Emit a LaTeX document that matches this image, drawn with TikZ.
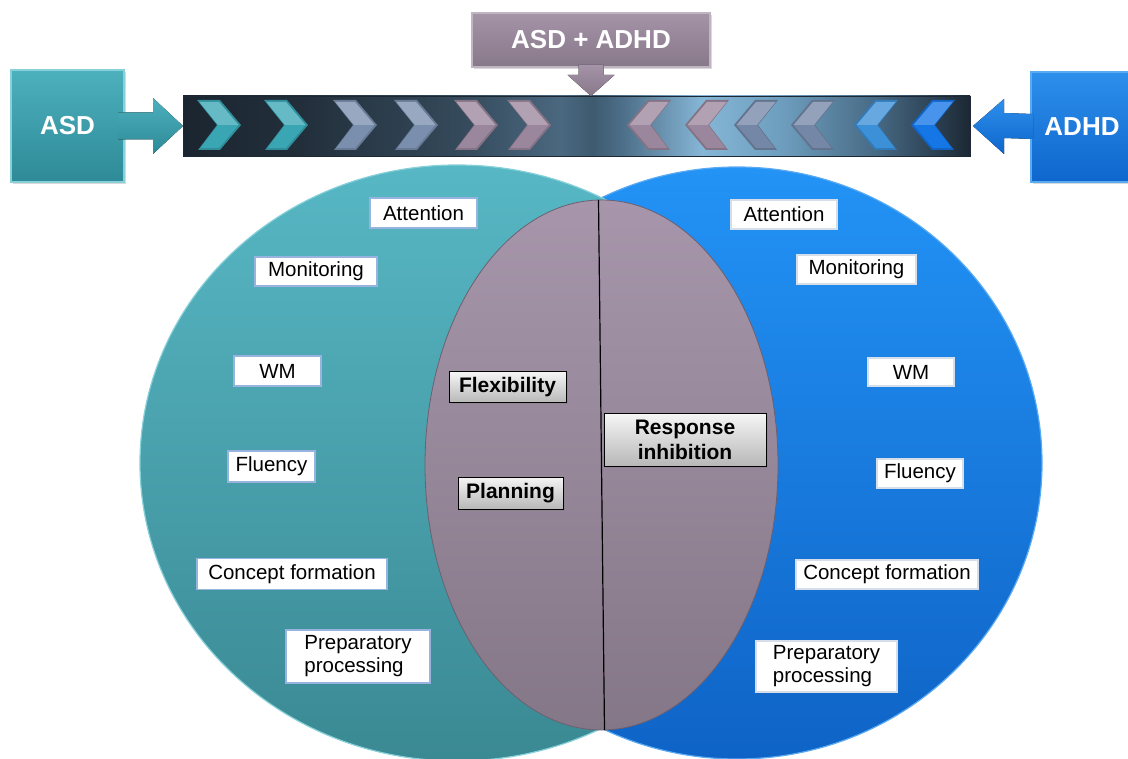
\documentclass[tikz,border=0pt]{standalone}
\usepackage{fontspec}
\setmainfont{Liberation Sans}
\usetikzlibrary{calc,shapes.geometric,shadows}
\definecolor{barA}{HTML}{1B2530}
\definecolor{barB}{HTML}{222F3B}
\definecolor{barC}{HTML}{34495A}
\definecolor{barD}{HTML}{4A6880}
\definecolor{barE}{HTML}{3D5A6F}
\definecolor{barF}{HTML}{4E708A}
\definecolor{barG}{HTML}{86B6D6}
\definecolor{barH}{HTML}{6E9EBE}
\definecolor{barI}{HTML}{476A85}
\definecolor{barJ}{HTML}{1C2834}
\pgfdeclarehorizontalshading{barshade}{100bp}{color(0bp)=(barA); color(25bp)=(barA); color(32.5bp)=(barB); color(42.5bp)=(barC); color(49bp)=(barD); color(51bp)=(barE); color(53bp)=(barF); color(58bp)=(barG); color(63bp)=(barH); color(69bp)=(barI); color(75bp)=(barJ); color(100bp)=(barJ)}
\definecolor{asdTop}{HTML}{57B7C4}
\definecolor{asdBot}{HTML}{3A8993}
\definecolor{asdEdge}{HTML}{86D0D9}
\definecolor{adhdTop}{HTML}{2393F6}
\definecolor{adhdBot}{HTML}{0F63C6}
\definecolor{adhdEdge}{HTML}{5AAAF2}
\definecolor{midTop}{HTML}{A796AB}
\definecolor{midBot}{HTML}{847787}
\definecolor{midEdge}{HTML}{6C6070}
\definecolor{boxTeal}{HTML}{4DB0BD}
\definecolor{boxTealB}{HTML}{2E8A97}
\definecolor{boxBlue}{HTML}{2D8FEC}
\definecolor{boxBlueB}{HTML}{0E66CC}
\definecolor{boxMauve}{HTML}{A593A8}
\definecolor{boxMauveB}{HTML}{877889}
\definecolor{chT}{HTML}{3AA6B4}
\definecolor{chB}{HTML}{7A8FAE}
\definecolor{chM}{HTML}{9B879D}
\definecolor{chBr}{HTML}{7487A6}
\definecolor{chL}{HTML}{3C90D8}
\definecolor{chBl}{HTML}{1576E6}
\definecolor{lblEdge}{HTML}{98B4DE}
\definecolor{lblEdgeR}{HTML}{D6DEEA}
\begin{document}
\begin{tikzpicture}[x=1pt,y=-1pt,
  setshape/.style={ellipse, inner sep=0pt, outer sep=0pt, line width=1.2pt},
  lbl/.style={draw=lblEdge, line width=1.3pt, fill=white, inner sep=0pt, outer sep=0pt,
    font=\fontsize{20.5}{23}\selectfont, text=black},
  lblr/.style={lbl, draw=lblEdgeR},
  bld/.style={draw=black, line width=1pt, top color=black!4, bottom color=black!28,
    inner sep=0pt, outer sep=0pt, font=\bfseries\fontsize{21}{25}\selectfont, text=black,
    drop shadow={shadow xshift=1.5pt, shadow yshift=-1.5pt, opacity=0.35}},
  catbox/.style={inner sep=0pt, outer sep=0pt, text=white, line width=1.2pt,
    font=\bfseries\fontsize{26}{30}\selectfont,
    drop shadow={shadow xshift=2pt, shadow yshift=-2pt, opacity=0.3}}
]
\useasboundingbox (0,0) rectangle (1128,759);

% ---- sets ----
\node[setshape, minimum width=610, minimum height=592, top color=adhdTop, bottom color=adhdBot, draw=adhdEdge] (adhdset) at (737,463) {};
\node[setshape, minimum width=634, minimum height=596, top color=asdTop, bottom color=asdBot, draw=asdEdge] (asdset) at (457,463) {};
\node[setshape, minimum width=353, minimum height=530, top color=midTop, bottom color=midBot, draw=midEdge, line width=0.8pt] (mid) at (601.5,465) {};
\draw[line width=1.2pt, black] ([xshift=-3pt]mid.north) -- ([xshift=3pt]mid.south);

% ---- bar ----
\node[minimum width=787, minimum height=60, inner sep=0pt, outer sep=0pt, shading=barshade, draw=barJ, line width=0.6pt] (bar) at (576.5,126) {};

% chevrons pointing right
\foreach \xx/\cc in {197/chT,264/chT,333/chB,394/chB,454/chM,507/chM}{
  \fill[\cc!85!black] (\xx,100) -- ++(23,0) -- ++(21,25) -- ++(-21,25) -- ++(-22,0) -- ++(19,-25) -- cycle;
  \fill[\cc] (\xx+2.5,102) -- (\xx+22,102) -- (\xx+41.5,125) -- (\xx+22,148) -- (\xx+3.5,148) -- (\xx+21,125) -- cycle;
  \fill[\cc!78!white] (\xx+2.5,102) -- (\xx+22,102) -- (\xx+41.5,125) -- (\xx+21,125) -- cycle;
}
% chevrons pointing left
\foreach \xx/\cc in {671/chM,729/chM,778/chBr,835/chBr,898/chL,955/chBl}{
  \fill[\cc!85!black] (\xx,100) -- ++(-23,0) -- ++(-21,25) -- ++(21,25) -- ++(22,0) -- ++(-19,-25) -- cycle;
  \fill[\cc] (\xx-2.5,102) -- (\xx-22,102) -- (\xx-41.5,125) -- (\xx-22,148) -- (\xx-3.5,148) -- (\xx-21,125) -- cycle;
  \fill[\cc!78!white] (\xx-2.5,102) -- (\xx-22,102) -- (\xx-41.5,125) -- (\xx-21,125) -- cycle;
}

% ---- category boxes ----
\node[catbox, top color=boxTeal, bottom color=boxTealB, draw=asdEdge, minimum width=113, minimum height=112] (asd) at (67.5,126) {ASD};
\node[catbox, top color=boxBlue, bottom color=boxBlueB, draw=adhdEdge, minimum width=102, minimum height=110, anchor=west] (adhd) at (1031,127) {ADHD};
\node[catbox, top color=boxMauve, bottom color=boxMauveB, draw=boxMauve!70!white, minimum width=238, minimum height=54] (both) at (591,40) {ASD + ADHD};

% ---- block arrows ----
\fill[top color=boxTeal, bottom color=boxTealB]
  ($(asd.east)+(-6,-13.5)$) -- ($(bar.west)+(-30,-13.5)$) -- ($(bar.west)+(-30,-28)$) -- (bar.west)
  -- ($(bar.west)+(-30,28)$) -- ($(bar.west)+(-30,13.5)$) -- ($(asd.east)+(-6,13.5)$) -- cycle;
\fill[top color=boxBlue, bottom color=boxBlueB]
  ($(adhd.west)+(2,-13)$) -- ($(bar.east)+(34,-13)$) -- ($(bar.east)+(34,-27)$) -- ($(bar.east)+(3,0)$)
  -- ($(bar.east)+(34,28)$) -- ($(bar.east)+(34,12)$) -- ($(adhd.west)+(2,12)$) -- cycle;
\coordinate (tipBoth) at (both.south |- bar.north);
\fill[top color=boxMauve, bottom color=boxMauveB]
  ($(both.south)+(-12.5,-2)$) -- ($(tipBoth)+(-12.5,-21)$) -- ($(tipBoth)+(-23.5,-21)$) -- (tipBoth)
  -- ($(tipBoth)+(23.5,-21)$) -- ($(tipBoth)+(12.5,-21)$) -- ($(both.south)+(12.5,-2)$) -- cycle;

% ---- left labels ----
\node[lbl, minimum width=107, minimum height=30] (lAtt) at (423.5,213) {Attention};
\node[lbl, minimum width=122, minimum height=29] (lMon) at (316,271.5) {Monitoring};
\node[lbl, minimum width=87, minimum height=30] (lWM) at (277.5,371) {WM};
\node[lbl, minimum width=87, minimum height=31] (lFlu) at (271.5,466.5) {Fluency};
\node[lbl, minimum width=190, minimum height=31] (lCon) at (292,574) {Concept formation};
\node[lbl, minimum width=144, minimum height=53, align=left] (lPre) at (358,656.5) {Preparatory\\processing};

% ---- right labels ----
\node[lblr, minimum width=106, minimum height=29] (rAtt) at (784,214.5) {Attention};
\node[lblr, minimum width=119, minimum height=29] (rMon) at (856.5,269.5) {Monitoring};
\node[lblr, minimum width=86, minimum height=28] (rWM) at (911,372) {WM};
\node[lblr, minimum width=86, minimum height=29] (rFlu) at (920,473.5) {Fluency};
\node[lblr, minimum width=182, minimum height=29] (rCon) at (887,574.5) {Concept formation};
\node[lblr, minimum width=141, minimum height=51, align=left] (rPre) at (826.5,666.5) {Preparatory\\processing};

% ---- shared labels ----
\node[bld, minimum width=117, minimum height=31] (flex) at (507.5,387.5) {Flexibility};
\node[bld, minimum width=105, minimum height=32] (plan) at (510.5,493) {Planning};
\node[bld, minimum width=162, minimum height=52, align=center] (resp) at (685,440) {Response\\inhibition};
\end{tikzpicture}
\end{document}
